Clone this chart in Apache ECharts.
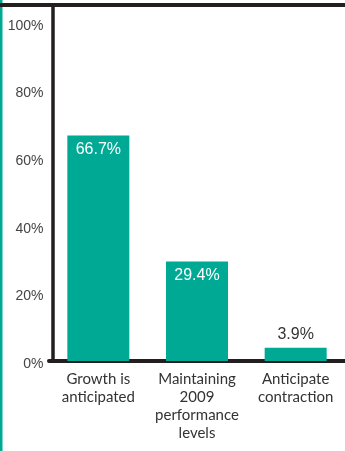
<!DOCTYPE html>
<html>
<head>
<meta charset="utf-8">
<script src="https://cdn.jsdelivr.net/npm/echarts@6/dist/echarts.min.js"></script>
<style>
html,body{margin:0;padding:0;background:#fff;}
#chart{width:345px;height:451px;}
</style>
</head>
<body>
<div id="chart"></div>
<script>
var categories = ['Growth is\nanticipated', 'Maintaining\n2009\nperformance\nlevels', 'Anticipate\ncontraction'];
var values = [66.7, 29.4, 3.9];
var yTicks = [0, 20, 40, 60, 80, 100];

var TEAL = '#00a994';
var DARK = '#231f20';

var chart = echarts.init(document.getElementById('chart'));
var data = values.map(function (v) {
  var inside = v > 10;
  return {
    value: v,
    label: inside ? {position: 'insideTop', distance: 6, color: '#fff'} : {position: 'top', distance: 5, color: '#333'}
  };
});

chart.setOption({
  animation: false,
  grid: {left: 49, right: 0, top: 5, bottom: 90},
  xAxis: {
    type: 'category',
    data: categories,
    axisLine: {lineStyle: {color: DARK, width: 4}},
    axisTick: {show: false},
    axisLabel: {
      fontFamily: 'Lato, "Liberation Sans", sans-serif',
      fontSize: 15, lineHeight: 18, color: '#333', margin: 9, interval: 0
    }
  },
  yAxis: {
    type: 'value',
    min: 0, max: 105.3, interval: 20,
    offset: -3.5,
    axisLine: {show: true, lineStyle: {color: DARK, width: 3.5}},
    axisTick: {show: false},
    splitLine: {show: false},
    axisLabel: {
      fontFamily: '"Liberation Sans", Arial, sans-serif',
      fontSize: 14, color: '#444', margin: 9,
      formatter: function (v) { return yTicks.indexOf(v) >= 0 ? '{a|' + v + '%}' : ''; },
      rich: {a: {fontFamily: '"Liberation Sans", Arial, sans-serif', fontSize: 14, color: '#444', padding: [6, 0, 0, 0]}}
    }
  },
  series: [{
    type: 'bar',
    data: data,
    barWidth: 62,
    itemStyle: {color: TEAL},
    label: {
      show: true,
      fontFamily: '"Liberation Sans", Arial, sans-serif',
      fontSize: 16,
      formatter: function (p) { return p.value.toFixed(1) + '%'; }
    }
  }],
  graphic: [
    {type: 'rect', shape: {x: 0, y: 0, width: 2.5, height: 451}, style: {fill: TEAL}, z: 10},
    {type: 'rect', shape: {x: 0, y: 3, width: 345, height: 4}, style: {fill: DARK}, z: 11}
  ]
});
</script>
</body>
</html>
